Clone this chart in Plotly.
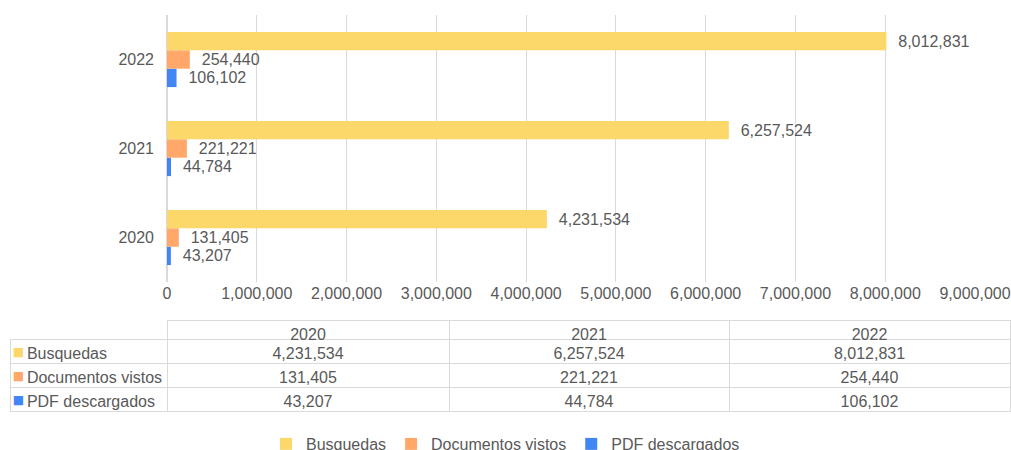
import plotly.graph_objects as go

# Datos
anios = ["2020", "2021", "2022"]
busquedas = [4231534, 6257524, 8012831]
documentos_vistos = [131405, 221221, 254440]
pdf_descargados = [43207, 44784, 106102]

nombres = ["Busquedas", "Documentos vistos", "PDF descargados"]
colores = ["#FCD76A", "#FFA86A", "#4285F4"]
series = [busquedas, documentos_vistos, pdf_descargados]

W, H = 1011, 450
fuente = "Liberation Sans, Arial, sans-serif"
gris = "#595959"
linea = "#DADADA"
nbsp = "\u00a0"
transparente = "rgba(0,0,0,0)"

fig = go.Figure()

# plotly dibuja la primera traza abajo en cada grupo, por eso se agregan al reves
for nombre, color, valores in reversed(list(zip(nombres, colores, series))):
    fig.add_trace(go.Bar(
        y=anios, x=valores, name=nombre, orientation="h",
        marker=dict(color=color, line=dict(width=0)),
        texttemplate=nbsp * 2 + "%{x:,}", textposition="outside",
        textfont=dict(size=16, color=gris), cliponaxis=False,
    ))

# tabla de datos debajo del grafico
def fmt(v):
    return f"{v:,}"

# espacios duros para que la tabla no parta el texto ni agrande las filas
etiquetas = [nbsp * 2 + n.replace(" ", nbsp) for n in nombres]
columnas = [etiquetas] + [[fmt(s[i]) for s in series] for i in range(len(anios))]

tabla_y = [1 - 412 / H, 1 - 320 / H]

fig.add_trace(go.Table(
    domain=dict(x=[10 / W, 1010 / W], y=tabla_y),
    columnwidth=[157, 282, 280, 281],
    header=dict(values=[""] + anios, height=19,
                fill_color=transparente,
                line=dict(color=[transparente, linea, linea, linea], width=1),
                font=dict(size=16, color=gris, family=fuente),
                align="center"),
    cells=dict(values=columnas, height=24,
               fill_color="white",
               line=dict(color=linea, width=1),
               font=dict(size=16, color=gris, family=fuente),
               align=["left", "center", "center", "center"]),
))

# cuadritos de color de la primera columna (tabla superpuesta sin bordes)
fig.add_trace(go.Table(
    domain=dict(x=[10 / W, 27 / W], y=tabla_y),
    header=dict(values=[""], height=19, fill_color=transparente,
                line=dict(color=transparente, width=1)),
    cells=dict(values=[["■"] * len(nombres)], height=24,
               fill_color=transparente,
               line=dict(color=transparente, width=1),
               font=dict(size=12, color=[colores], family="DejaVu Sans"),
               align="center"),
))

fig.update_layout(
    width=W, height=H,
    margin=dict(l=0, r=0, t=0, b=0, autoexpand=False),
    paper_bgcolor="white", plot_bgcolor="white",
    font=dict(family=fuente, size=16, color=gris),
    barmode="group", bargap=0.38, bargroupgap=0,
    showlegend=True,
    legend=dict(orientation="h", x=0.5, xanchor="center", y=1 - 427 / H, yanchor="top",
                traceorder="reversed", font=dict(size=16, color=gris)),
    xaxis=dict(domain=[167 / W, 975 / W], range=[0, 9000000], dtick=1000000,
               tickformat=",", showgrid=True, gridcolor=linea, gridwidth=1,
               zeroline=True, zerolinecolor=linea, showline=False,
               tickfont=dict(size=16, color=gris), ticks=""),
    yaxis=dict(domain=[1 - 282 / H, 1 - 15 / H], type="category",
               categoryorder="array", categoryarray=anios,
               showgrid=False, showline=False, zeroline=False,
               tickfont=dict(size=16, color=gris), ticks="", ticklabelstandoff=12),
)

# quitar el margen del body para que la figura quede en (0, 0)
fig.write_html("out.html", config={"displayModeBar": False},
               post_script="document.body.style.margin='0px';")
